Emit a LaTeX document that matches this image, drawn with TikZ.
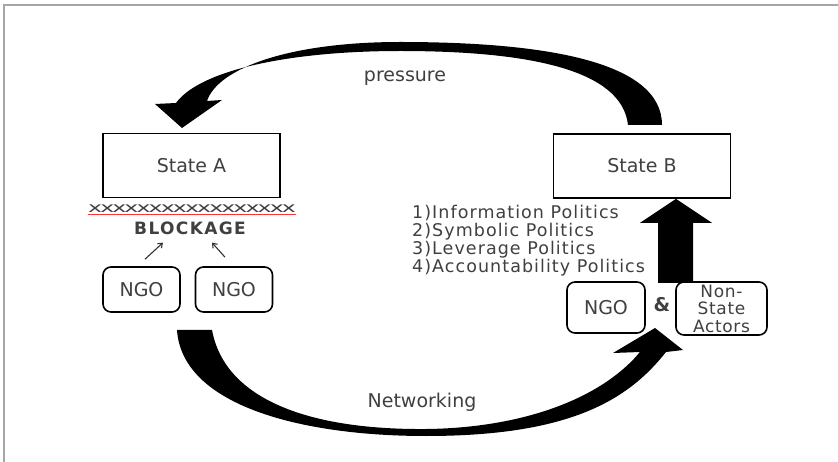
\documentclass[tikz,border=0pt]{standalone}
\usepackage{graphicx}
\usepackage{fontspec}
\setmainfont{DejaVu Sans}
\newfontfamily\blockfont{DejaVu Sans}[LetterSpace=8]
\usetikzlibrary{arrows.meta}

\newcommand\labelsize{\fontsize{19}{21}\selectfont}

\tikzset{
  statebox/.style={draw=black, line width=1.8pt, minimum width=177pt, minimum height=64pt},
  ngobox/.style={draw=black, line width=1.6pt, rounded corners=8pt, minimum width=77pt, minimum height=45pt, inner sep=0pt},
  smallarrow/.style={-{Straight Barb[length=4pt,width=6pt]}, line width=1.1pt, black!80},
}

\begin{document}
\begin{tikzpicture}[x=1pt, y=-1pt, every node/.style={font=\labelsize, text=black!75}]
    \fill[white] (0,0) rectangle (838,462);
    \useasboundingbox (0,0) rectangle (838,462);
    \draw[gray!70, line width=1.5pt] (4,462) -- (4,5) -- (838,5);

    \node[statebox] (A) at (191.5,165.5) {State A};
    \node[statebox] (B) at (642,166) {State B};

    \node[inner sep=0pt] (xline) at (192,209) {\scalebox{1.69}[1]{\fontsize{14}{14}\selectfont\addfontfeature{LetterSpace=-8}xxxxxxxxxxxxxxxxx}};
    \draw[red!80, line width=0.6pt] ([yshift=-1.5pt]xline.south west) -- ([yshift=-1.5pt]xline.south east);
    \node[inner sep=1pt, font=\blockfont\bfseries\fontsize{17}{20}\selectfont] (block) at (190,228) {BLOCKAGE};

    \node[ngobox] (ngoA) at (141.5,289.5) {NGO};
    \node[ngobox] (ngoB) at (234,289.5) {NGO};
    \draw[smallarrow] ([xshift=3.5pt,yshift=7pt]ngoA.north) -- ([xshift=-27pt,yshift=-7pt]block.south);
    \draw[smallarrow] ([xshift=-9pt,yshift=9pt]ngoB.north) -- ([xshift=22pt,yshift=-7pt]block.south);

    \node[ngobox, minimum width=78pt, minimum height=51pt] (ngoC) at (606,307.5) {NGO};
    \node (amp) at (662,305) {\textbf{\&}};
    \node[ngobox, minimum width=91pt, minimum height=53pt, align=center, font=\fontsize{17}{17.5}\selectfont\addfontfeature{LetterSpace=4}] (nsa) at (721.5,308.5) {Non-\\State\\Actors};

    \node[anchor=north west, align=left, inner sep=0pt, font=\fontsize{17.5}{18}\selectfont\addfontfeature{LetterSpace=6}] (tactics) at (412,205) {1)Information Politics\\2)Symbolic Politics\\3)Leverage Politics\\4)Accountability Politics};

    % pressure from B back to A
    \fill (662,125) .. controls (662,60) and (540,42) .. (400,42) .. controls (290,42) and (218,68) .. (207,101)
        -- (222,100) -- (182,128) -- (155,104) -- (176,103)
        .. controls (200,70) and (290,51) .. (400,51) .. controls (530,51) and (622,70) .. (628,125) -- cycle;
    \node (press) at (405,78) {pressure};

    % networking from the NGOs over to B
    \fill (177,330) .. controls (182,405) and (300,436) .. (426,436) .. controls (570,436) and (628,400) .. (666,352)
        -- (683,350) -- (655,328) -- (613,353) -- (640,352)
        .. controls (600,400) and (520,428) .. (426,429) .. controls (310,430) and (225,400) .. (212,330) -- cycle;
    \node (net) at (422,402) {Networking};

    % up into B
    \coordinate (tipB) at ([xshift=34pt]B.south);
    \fill (tipB) -- ++(36,24) -- ++(-19,0) -- ++(0,60) -- ++(-35,0) -- ++(0,-60) -- ++(-18,0) -- cycle;
\end{tikzpicture}
\end{document}
